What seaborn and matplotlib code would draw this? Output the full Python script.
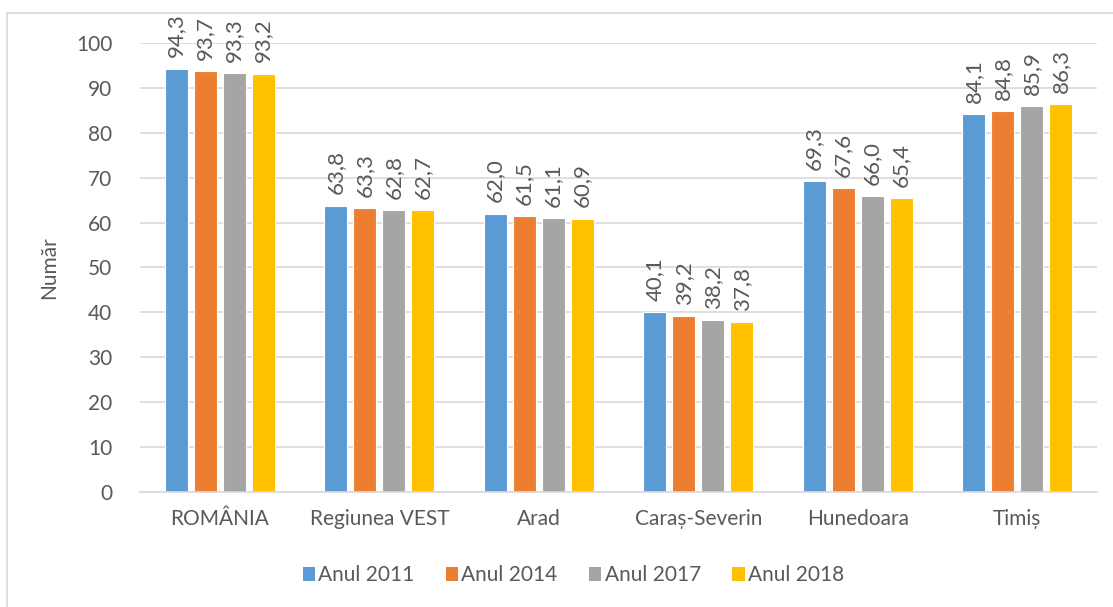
import matplotlib
matplotlib.use("Agg")
import matplotlib.pyplot as plt
import seaborn as sns
import pandas as pd
from matplotlib.lines import Line2D
from matplotlib.patches import Patch

categories = ["ROMÂNIA", "Regiunea VEST", "Arad", "Caraș-Severin", "Hunedoara", "Timiș"]
series_names = ["Anul 2011", "Anul 2014", "Anul 2017", "Anul 2018"]
v2011 = [94.3, 63.8, 62.0, 40.1, 69.3, 84.1]
v2014 = [93.7, 63.3, 61.5, 39.2, 67.6, 84.8]
v2017 = [93.3, 62.8, 61.1, 38.2, 66.0, 85.9]
v2018 = [93.2, 62.7, 60.9, 37.8, 65.4, 86.3]
yticks = [0, 10, 20, 30, 40, 50, 60, 70, 80, 90, 100]
colors = ["#5B9BD5", "#ED7D31", "#A5A5A5", "#FFC000"]

rows = []
for name, vals in zip(series_names, [v2011, v2014, v2017, v2018]):
    for c, v in zip(categories, vals):
        rows.append({"Regiune": c, "An": name, "Valoare": v})
df = pd.DataFrame(rows)

sns.set_theme(style="white")
plt.rcParams["font.family"] = ["Lato", "DejaVu Sans"]
txt = "#595959"
fs = 15

fig = plt.figure(figsize=(11.13, 6.07), dpi=100)
ax = fig.add_axes([0.1258, 0.1895, 0.8598, 0.7397])

sns.barplot(data=df, x="Regiune", y="Valoare", hue="An", order=categories,
            hue_order=series_names, palette=colors, width=0.727, gap=0.2,
            edgecolor="white", linewidth=0.8, saturation=1, ax=ax, legend=False)

for cont in ax.containers:
    labels = [f"{v:.1f}".replace(".", ",") for v in cont.datavalues]
    ax.bar_label(cont, labels=labels, rotation=90, padding=8, fontsize=fs + 1, color=txt)

ax.set_ylim(0, 100)
ax.set_xlim(-0.5, len(categories) - 0.5)
ax.set_yticks(yticks)
ax.yaxis.grid(True, color="#D9D9D9", linewidth=1.2)
ax.set_axisbelow(True)
for s in ["top", "right", "left"]:
    ax.spines[s].set_visible(False)
ax.spines["bottom"].set_color("#D9D9D9")
ax.spines["bottom"].set_linewidth(1.2)
ax.tick_params(axis="both", length=0, labelsize=fs, colors=txt)
ax.tick_params(axis="y", pad=20)
ax.tick_params(axis="x", pad=12)
ax.set_xlabel("")
ax.set_ylabel("Număr", fontsize=fs, color=txt, labelpad=12)

handles = [Patch(facecolor=c, edgecolor="none") for c in colors]
fig.legend(handles, series_names, loc="center", bbox_to_anchor=(0.515, 0.052), ncol=4,
           frameon=False, fontsize=fs, labelcolor=txt, handlelength=0.6, handleheight=0.6,
           handletextpad=0.15, columnspacing=1.5)

fig.add_artist(Line2D([7 / 1113, 7 / 1113], [0, 1 - 13 / 607], transform=fig.transFigure,
                      color="#D9D9D9", linewidth=1.2))
fig.add_artist(Line2D([7 / 1113, 1], [1 - 13 / 607, 1 - 13 / 607], transform=fig.transFigure,
                      color="#D9D9D9", linewidth=1.2))

fig.savefig("out.png", dpi=100)
